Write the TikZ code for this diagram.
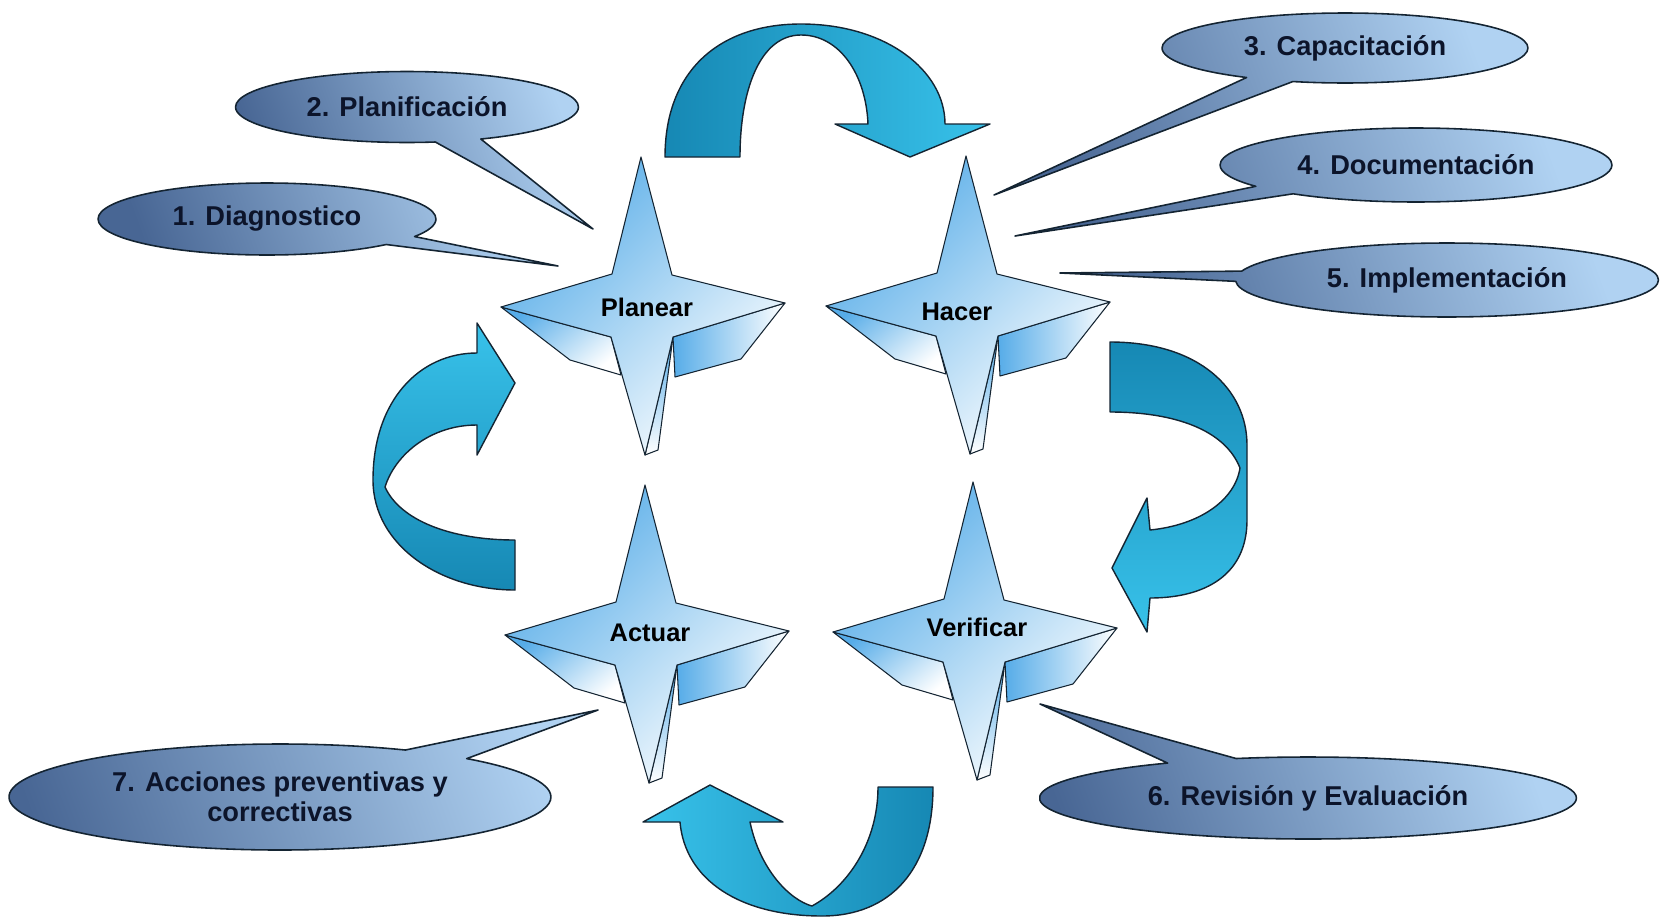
\documentclass[tikz,border=0pt]{standalone}
\usepackage{fontspec}
\setmainfont{Liberation Sans}
\usetikzlibrary{shapes.callouts}
\definecolor{starblue}{RGB}{86,172,232}
\definecolor{calldark}{RGB}{72,102,148}
\definecolor{calllight}{RGB}{176,210,242}
\definecolor{arrowdark}{RGB}{22,136,180}
\definecolor{arrowlight}{RGB}{56,194,234}
\definecolor{lineblack}{RGB}{20,36,50}
\definecolor{calltext}{RGB}{12,20,42}

\begin{document}
\begin{tikzpicture}[x={(0.02cm,0)}, y={(0,-0.02cm)}, line join=round,
    callout/.style={ellipse callout, draw=lineblack, line width=0.9pt,
      left color=calldark, right color=calllight, shading angle=110,
      callout pointer arc=16, inner sep=0pt, align=center, text=calltext,
      font=\bfseries\fontsize{15.5}{17}\selectfont},
    startext/.style={font=\bfseries\fontsize{14.5}{16}\selectfont},
    facet/.style={draw=lineblack, line width=0.6pt},
    ribbon/.style={draw=lineblack, line width=0.8pt},
    pdcastar/.pic={
      \draw[facet, top color=starblue, bottom color=white] (30,32) -- (15,145) -- (2,150) -- cycle;
      \draw[facet, left color=starblue, right color=white] (142,-2) -- (98,54) -- (32,72) -- (30,32) -- cycle;
      \draw[facet, top color=starblue, bottom color=white, shading angle=40] (-142,2) -- (-73,55) -- (-22,70) -- (-32,32) -- cycle;
      \draw[facet, top color=starblue, middle color=starblue!18, bottom color=white, shading angle=45]
        (-2,-148) -- (29,-30) -- (142,-2) -- (30,32) -- (2,150) -- (-32,32) -- (-142,2) -- (-31,-31) -- cycle;
    }]

  \useasboundingbox (0,0) rectangle (1667,920);

  \draw[ribbon, left color=arrowdark, right color=arrowlight]
    (665,157) .. controls (665,70) and (720,24) .. (801,24)
    .. controls (885,24) and (945,70) .. (945,124)
    -- (990,124) -- (910,157) -- (835,124) -- (868,124)
    .. controls (866,75) and (840,35) .. (801,35)
    .. controls (760,35) and (740,90) .. (740,157) -- cycle;
  \draw[ribbon, top color=arrowdark, bottom color=arrowlight]
    (1110,342) .. controls (1200,342) and (1247,390) .. (1247,445)
    -- (1247,520) .. controls (1247,575) and (1205,598) .. (1150,598)
    -- (1147,632) -- (1112,568) -- (1147,498) -- (1150,530)
    .. controls (1200,525) and (1235,500) .. (1240,468)
    .. controls (1225,430) and (1175,412) .. (1110,412) -- cycle;
  \draw[ribbon, left color=arrowlight, right color=arrowdark]
    (933,787) .. controls (933,870) and (890,916) .. (822,916)
    .. controls (740,916) and (685,880) .. (680,822)
    -- (643,822) -- (710,785) -- (783,822) -- (750,822)
    .. controls (760,870) and (790,900) .. (812,906)
    .. controls (850,885) and (878,840) .. (878,787) -- cycle;
  \draw[ribbon, top color=arrowlight, bottom color=arrowdark]
    (515,590) .. controls (440,590) and (373,545) .. (373,480)
    .. controls (373,400) and (420,353) .. (477,353)
    -- (477,323) -- (515,383) -- (477,455) -- (477,425)
    .. controls (430,425) and (395,455) .. (385,487)
    .. controls (400,520) and (450,540) .. (515,540) -- cycle;

  \node[callout, minimum width=6.76cm, minimum height=1.44cm,
    callout absolute pointer={(558,266)}] (c1) at (267,219) {1. Diagnostico};
  \node[callout, minimum width=6.86cm, minimum height=1.42cm,
    callout absolute pointer={(593,229)}] (c2) at (407,107) {2. Planificación};
  \node[callout, minimum width=7.32cm, minimum height=1.40cm,
    callout absolute pointer={(994,195)}] (c3) at (1345,48) {3. Capacitación};
  \node[callout, minimum width=7.84cm, minimum height=1.48cm,
    callout absolute pointer={(1015,236)}] (c4) at (1416,165) {4. Documentación};
  \node[callout, minimum width=8.46cm, minimum height=1.48cm,
    callout absolute pointer={(1060,273)}] (c5) at (1447,280) {5. Implementación};
  \node[callout, minimum width=10.74cm, minimum height=1.64cm,
    callout absolute pointer={(1040,704)}] (c6) at (1308,798) {6. Revisión y Evaluación};
  \node[callout, minimum width=10.84cm, minimum height=2.12cm,
    callout absolute pointer={(598,710)}] (c7) at (280,797) {7. Acciones preventivas y\\correctivas};

  \pic at (643,305) {pdcastar};
  \pic at (968,304) {pdcastar};
  \pic at (647,633) {pdcastar};
  \pic at (975,630) {pdcastar};

  \node[startext] (plan) at (647,307) {Planear};
  \node[startext] (hacer) at (957,312) {Hacer};
  \node[startext] (actuar) at (650,633) {Actuar};
  \node[startext] (verif) at (977,627) {Verificar};
\end{tikzpicture}
\end{document}
